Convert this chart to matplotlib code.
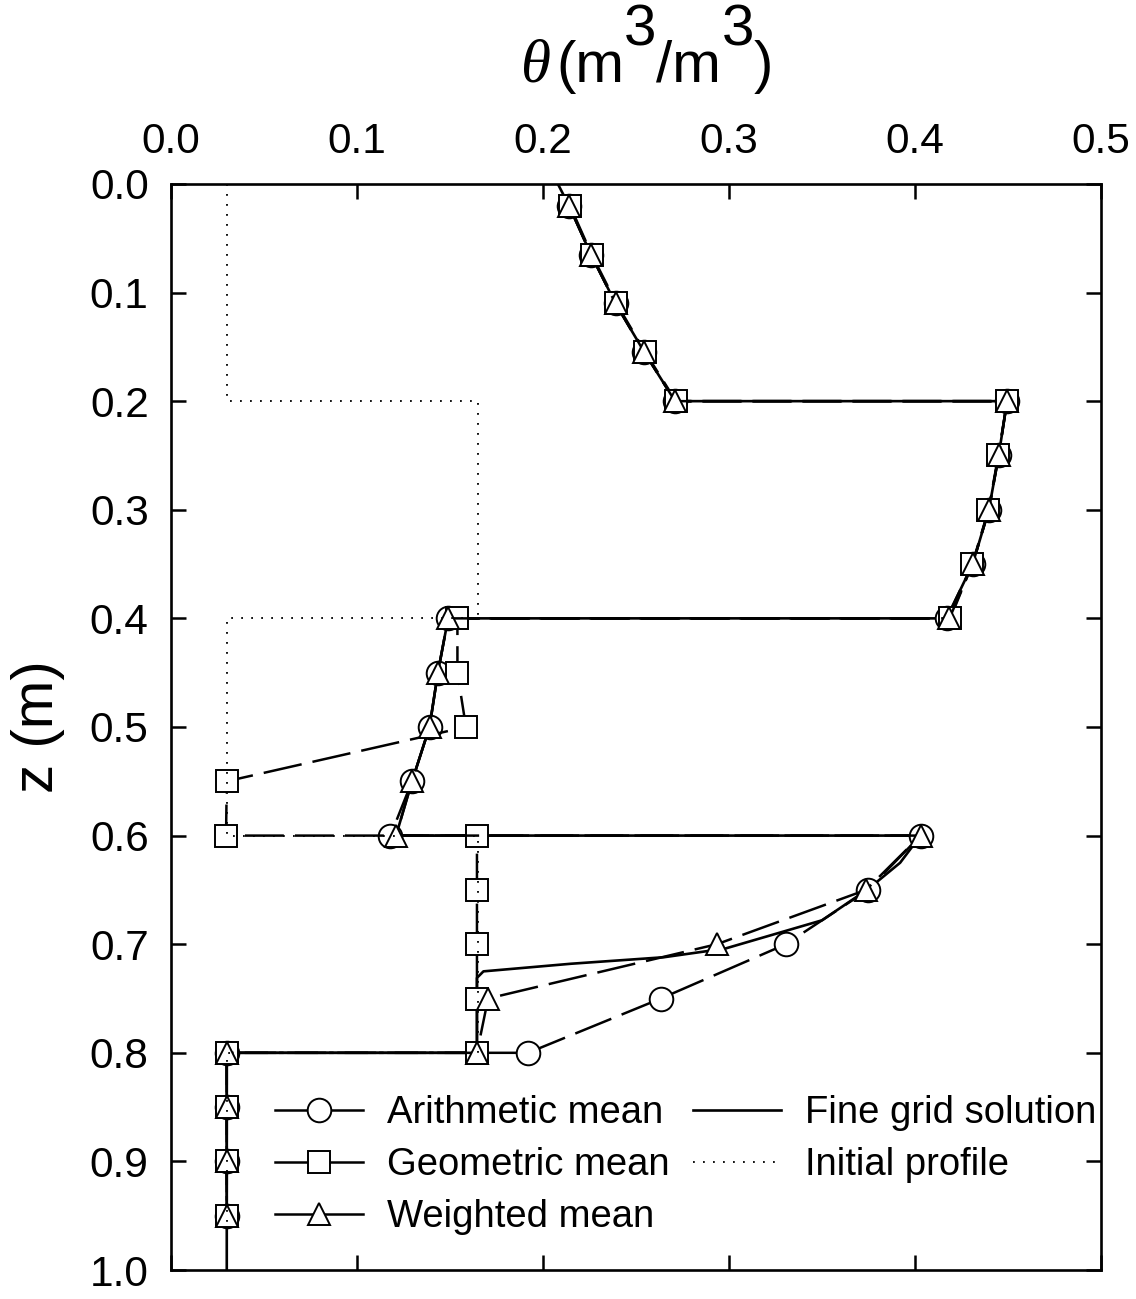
import matplotlib
matplotlib.use("Agg")
import matplotlib.pyplot as plt
from matplotlib.lines import Line2D

plt.rcParams['font.family'] = ['Liberation Sans', 'DejaVu Sans']
plt.rcParams['lines.scale_dashes'] = False

# node depths (m); interfaces appear twice so the jump is drawn as a horizontal step
node_z = [0.02, 0.065, 0.11, 0.155, 0.2, 0.2, 0.25, 0.3, 0.35, 0.4, 0.4, 0.45, 0.5, 0.55, 0.6,
          0.6, 0.65, 0.7, 0.75, 0.8, 0.8, 0.85, 0.9, 0.95]

theta_arith = [0.214, 0.2258, 0.239, 0.2545, 0.271, 0.4495, 0.445, 0.4397, 0.431, 0.417,
               0.149, 0.1435, 0.139, 0.1296, 0.118,
               0.403, 0.3747, 0.3306, 0.2634, 0.192, 0.030, 0.030, 0.030, 0.030]
theta_geom = [0.2145, 0.2262, 0.2395, 0.255, 0.2715, 0.4495, 0.4448, 0.4395, 0.4308, 0.419,
              0.154, 0.154, 0.1586, 0.030, 0.0296,
              0.1645, 0.1645, 0.1645, 0.1645, 0.1645, 0.030, 0.030, 0.030, 0.030]
theta_wgt = [0.214, 0.2258, 0.239, 0.2545, 0.271, 0.4495, 0.445, 0.4397, 0.431, 0.4185,
             0.149, 0.1435, 0.139, 0.1296, 0.121,
             0.403, 0.3737, 0.2935, 0.1705, 0.1645, 0.030, 0.030, 0.030, 0.030]

fine_z = [0.0, 0.02, 0.065, 0.11, 0.155, 0.2, 0.2, 0.25, 0.3, 0.35, 0.4, 0.4, 0.45, 0.5, 0.55, 0.6,
          0.6, 0.625, 0.649, 0.678, 0.704, 0.712, 0.718, 0.725, 0.731, 0.8, 0.8, 1.0]
fine_theta = [0.208, 0.214, 0.2258, 0.239, 0.2545, 0.271, 0.4495, 0.445, 0.4397, 0.431, 0.417,
              0.149, 0.1435, 0.139, 0.1296, 0.121,
              0.403, 0.392, 0.375, 0.350, 0.298, 0.265, 0.215, 0.168, 0.1645, 0.1645, 0.030, 0.030]

init_z = [0.0, 0.2, 0.2, 0.4, 0.4, 0.6, 0.6, 0.8, 0.8, 1.0]
init_theta = [0.03, 0.03, 0.165, 0.165, 0.03, 0.03, 0.165, 0.165, 0.03, 0.03]

x_ticks = [0.0, 0.1, 0.2, 0.3, 0.4, 0.5]
z_ticks = [0.0, 0.1, 0.2, 0.3, 0.4, 0.5, 0.6, 0.7, 0.8, 0.9, 1.0]

dash = (28.0, 8.0)
mk = dict(markerfacecolor='white', markeredgecolor='black', markeredgewidth=1.4)

fig = plt.figure(figsize=(11.36, 12.99), dpi=100)
ax = fig.add_axes([0.1505, 0.0223, 0.8187, 0.8361])

ax.plot(fine_theta, fine_z, color='black', lw=1.9, zorder=2)
ax.plot(theta_arith, node_z, color='black', lw=1.8, dashes=dash, marker='o', markersize=17, zorder=3, **mk)
ax.plot(theta_geom, node_z, color='black', lw=1.8, dashes=dash, marker='s', markersize=16, zorder=4, **mk)
ax.plot(theta_wgt, node_z, color='black', lw=1.8, dashes=dash, marker='^', markersize=16, zorder=5, **mk)
ax.plot(init_theta, init_z, color='black', lw=1.3, dashes=(1.3, 5.9), zorder=6)

ax.set_xlim(0, 0.5)
ax.set_ylim(1.0, 0.0)
ax.set_xticks(x_ticks)
ax.set_xticklabels(['%.1f' % v for v in x_ticks])
ax.set_yticks(z_ticks)
ax.set_yticklabels(['%.1f' % v for v in z_ticks])
ax.xaxis.tick_top()
ax.tick_params(direction='in', length=11, width=1.8, labelsize=30.5,
               top=True, bottom=True, left=True, right=True,
               labeltop=True, labelbottom=False)
ax.tick_params(axis='x', pad=16)
ax.tick_params(axis='y', pad=16)
for s in ax.spines.values():
    s.set_linewidth(1.9)

ax.set_ylabel('z (m)', fontsize=42)
ax.yaxis.set_label_coords(-0.114, 0.5)

# theta (m^3/m^3) with full-size raised exponents
t_open = fig.text(556 / 1136, 1 - 82 / 1299, '(m', fontsize=42, va='baseline', ha='left')
ax.annotate('\u03b8', xy=(0, 0), xycoords=t_open, xytext=(-4, 0), textcoords='offset points',
            ha='right', va='bottom', fontsize=44, family='Liberation Serif', style='italic',
            annotation_clip=False)
t_sup1 = ax.annotate('3', xy=(1, 0), xycoords=t_open, xytext=(0, 26), textcoords='offset points',
                     ha='left', va='bottom', fontsize=42, annotation_clip=False)
t_mid = ax.annotate('/m', xy=(1, 0), xycoords=t_sup1, xytext=(0, -26), textcoords='offset points',
                    ha='left', va='bottom', fontsize=42, annotation_clip=False)
t_sup2 = ax.annotate('3', xy=(1, 0), xycoords=t_mid, xytext=(0, 26), textcoords='offset points',
                     ha='left', va='bottom', fontsize=42, annotation_clip=False)
ax.annotate(')', xy=(1, 0), xycoords=t_sup2, xytext=(0, -26), textcoords='offset points',
            ha='left', va='bottom', fontsize=42, annotation_clip=False)

handles = [
    Line2D([], [], color='black', lw=1.8, marker='o', markersize=17, **mk),
    Line2D([], [], color='black', lw=1.8, marker='s', markersize=16, **mk),
    Line2D([], [], color='black', lw=1.8, marker='^', markersize=16, **mk),
    Line2D([], [], color='black', lw=1.9),
    Line2D([], [], color='black', lw=1.3, dashes=(1.3, 5.9)),
]
labels = ['Arithmetic mean', 'Geometric mean', 'Weighted mean', 'Fine grid solution', 'Initial profile']
ax.legend(handles, labels, ncol=2, frameon=False, fontsize=27.5, loc='upper left',
          bbox_to_anchor=(0.112, 0.161), borderaxespad=0, borderpad=0,
          handlelength=2.3, handletextpad=0.64, columnspacing=0.6, labelspacing=0.42,
          markerfirst=True)

fig.savefig('out.png', dpi=100)
